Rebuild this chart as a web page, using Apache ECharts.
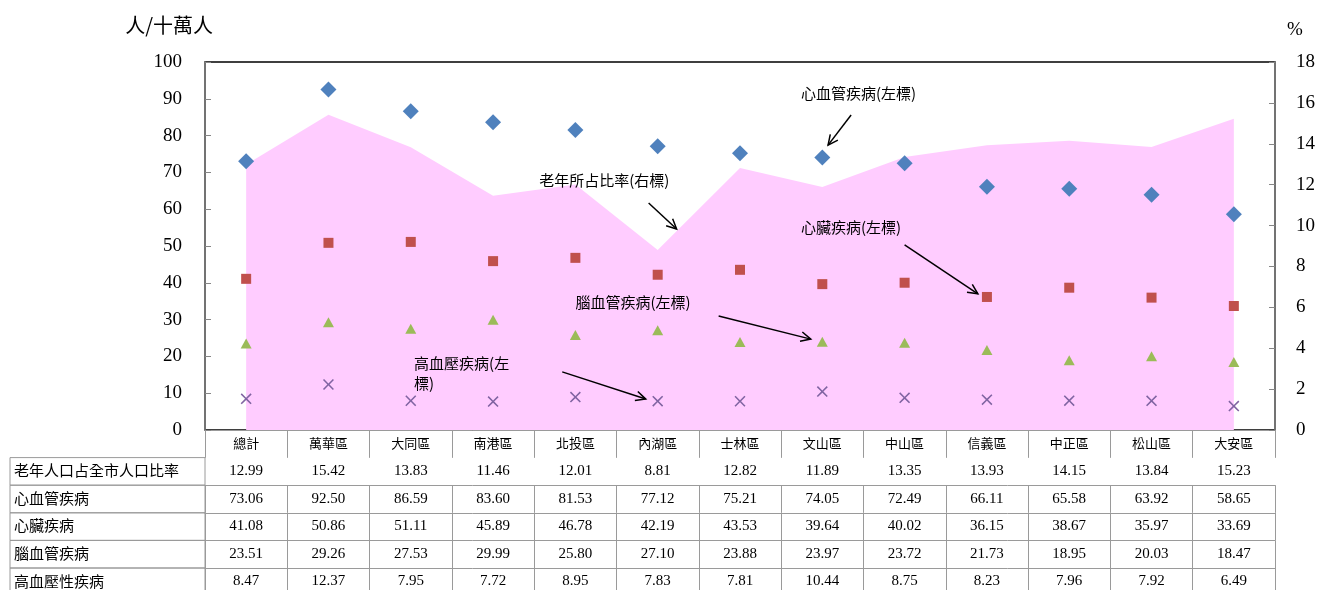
<!DOCTYPE html>
<html><head><meta charset="utf-8">
<script src="https://cdn.jsdelivr.net/npm/echarts@6/dist/echarts.min.js"></script>
<style>html,body{margin:0;padding:0;background:#fff}#c{width:1318px;height:590px}</style>
</head><body><div id="c"></div>
<script>
// ---------- data ----------
const districts = ['總計','萬華區','大同區','南港區','北投區','內湖區','士林區','文山區','中山區','信義區','中正區','松山區','大安區'];
const elderlyRatio = [12.99,15.42,13.83,11.46,12.01,8.81,12.82,11.89,13.35,13.93,14.15,13.84,15.23];
const cardiovascular = [73.06,92.50,86.59,83.60,81.53,77.12,75.21,74.05,72.49,66.11,65.58,63.92,58.65];
const heartDisease = [41.08,50.86,51.11,45.89,46.78,42.19,43.53,39.64,40.02,36.15,38.67,35.97,33.69];
const cerebrovascular = [23.51,29.26,27.53,29.99,25.80,27.10,23.88,23.97,23.72,21.73,18.95,20.03,18.47];
const hypertension = [8.47,12.37,7.95,7.72,8.95,7.83,7.81,10.44,8.75,8.23,7.96,7.92,6.49];
const rowLabels = ['老年人口占全市人口比率','心血管疾病','心臟疾病','腦血管疾病','高血壓性疾病'];
const leftAxisTicks = {min:0, max:100, interval:10};
const rightAxisTicks = {min:0, max:18, interval:2};
const leftAxisTitle = '人/十萬人';
const rightAxisTitle = '%';
// annotations in data coordinates: [category index, left-axis value]
const annotationTexts = ['心血管疾病(左標)','老年所占比率(右標)','心臟疾病(左標)','腦血管疾病(左標)','高血壓疾病(左\n標)'];
const annotationTextAt = [[6.74,91.6],[3.56,67.9],[6.74,55.2],[4.0,34.8],[2.04,15.5]];
const annotationArrowFrom = [[7.35,85.6],[4.89,61.7],[8.0,50.3],[5.74,31.0],[3.84,15.8]];
const annotationArrowTo = [[7.07,77.4],[5.23,54.6],[8.89,37.0],[6.86,24.7],[4.855,8.4]];

// ---------- styling ----------
const SERIF = '"Liberation Serif","Times New Roman",serif';
const CJK = '"Noto Sans CJK TC","Noto Sans CJK SC",sans-serif';
const GRID = {left:205, right:37, top:62, bottom:160};
const ROW_H = 27.6;
const TABLE_LEFT = 10;
const LINE_GRAY = '#9a9a9a';
const AXIS_GRAY = '#868686';

const tableRows = [elderlyRatio, cardiovascular, heartDisease, cerebrovascular, hypertension];

const xAxes = [{
  type:'category', data:districts, gridIndex:0, position:'bottom',
  axisLine:{show:true, lineStyle:{color:AXIS_GRAY, width:1}},
  axisTick:{show:true, interval:0, alignWithLabel:false, inside:false, length:ROW_H, lineStyle:{color:LINE_GRAY}},
  axisLabel:{interval:0, margin:7, fontSize:13, fontFamily:CJK, color:'#000', hideOverlap:false},
  splitLine:{show:false}
}];
tableRows.forEach((row, k) => {
  xAxes.push({
    type:'category', data:districts, gridIndex:0, position:'bottom', offset:ROW_H*(k+1),
    axisLine:{show:true, lineStyle:{color:LINE_GRAY, width:1}},
    axisTick:{show:true, interval:0, alignWithLabel:false, inside:false, length:ROW_H, lineStyle:{color:LINE_GRAY}},
    axisLabel:{interval:0, margin:6, fontSize:15, fontFamily:SERIF, color:'#000', hideOverlap:false,
      formatter:(v, i) => row[i].toFixed(2)},
    splitLine:{show:false}
  });
});

const option = {
  animation:false,
  backgroundColor:'#fff',
  grid:{left:GRID.left, right:GRID.right, top:GRID.top, bottom:GRID.bottom, show:true, borderColor:'#000', borderWidth:1.5, containLabel:false},
  xAxis:xAxes,
  yAxis:[{
    type:'value', position:'left', min:leftAxisTicks.min, max:leftAxisTicks.max, interval:leftAxisTicks.interval,
    name:leftAxisTitle, nameLocation:'end', nameGap:37,
    nameTextStyle:{fontFamily:CJK, fontSize:20, color:'#000', align:'right', verticalAlign:'middle', padding:[0,-8,0,0]},
    axisLine:{show:true, lineStyle:{color:AXIS_GRAY, width:1.5}},
    axisTick:{show:true, inside:true, length:6, lineStyle:{color:AXIS_GRAY}},
    axisLabel:{margin:23, fontSize:19, fontFamily:SERIF, color:'#000'},
    splitLine:{show:false}
  },{
    type:'value', position:'right', min:rightAxisTicks.min, max:rightAxisTicks.max, interval:rightAxisTicks.interval,
    name:rightAxisTitle, nameLocation:'end', nameGap:32,
    nameTextStyle:{fontFamily:SERIF, fontSize:19, color:'#000', align:'left', verticalAlign:'middle', padding:[0,0,0,12]},
    axisLine:{show:true, lineStyle:{color:AXIS_GRAY, width:1.5}},
    axisTick:{show:true, inside:true, length:6, lineStyle:{color:AXIS_GRAY}},
    axisLabel:{margin:21, fontSize:19, fontFamily:SERIF, color:'#000'},
    splitLine:{show:false}
  }],
  series:[{
    name:'老年人口占全市人口比率', type:'line', xAxisIndex:0, yAxisIndex:1, data:elderlyRatio,
    symbol:'none', lineStyle:{width:0, color:'#FFCCFF'}, areaStyle:{color:'#FFCCFF', opacity:1}, z:1, silent:true
  },{
    name:'心血管疾病', type:'scatter', xAxisIndex:0, yAxisIndex:0, data:cardiovascular,
    symbol:'diamond', symbolSize:[16,16], itemStyle:{color:'#4F81BD', opacity:1}, z:5
  },{
    name:'心臟疾病', type:'scatter', xAxisIndex:0, yAxisIndex:0, data:heartDisease,
    symbol:'rect', symbolSize:[10,10], itemStyle:{color:'#C0504D', opacity:1}, z:5
  },{
    name:'腦血管疾病', type:'scatter', xAxisIndex:0, yAxisIndex:0, data:cerebrovascular,
    symbol:'triangle', symbolSize:[11,10], itemStyle:{color:'#9BBB59', opacity:1}, z:5
  },{
    name:'高血壓性疾病', type:'scatter', xAxisIndex:0, yAxisIndex:0, data:hypertension,
    symbol:'path://M0,1 L1,0 L5,4 L9,0 L10,1 L6,5 L10,9 L9,10 L5,6 L1,10 L0,9 L4,5 Z', symbolSize:[11,11],
    itemStyle:{color:'#8064A2', opacity:1}, z:5
  }]
};

const chart = echarts.init(document.getElementById('c'), null, {renderer:'canvas'});
chart.setOption(option);

// ---------- annotations & row-label column ----------
function toPx(pt){
  const x0 = chart.convertToPixel({xAxisIndex:0}, 0);
  const x1 = chart.convertToPixel({xAxisIndex:0}, 1);
  const y = chart.convertToPixel({yAxisIndex:0}, pt[1]);
  return [x0 + (x1 - x0) * pt[0], y];
}
const graphics = [];
annotationTexts.forEach((t, i) => {
  const p = toPx(annotationTextAt[i]);
  graphics.push({type:'text', x:p[0], y:p[1], z:20, style:{text:t, fill:'#000', font:'15px ' + CJK, textVerticalAlign:'middle', lineHeight:20}});
  const a = toPx(annotationArrowFrom[i]);
  const b = toPx(annotationArrowTo[i]);
  graphics.push({type:'line', z:20, shape:{x1:a[0], y1:a[1], x2:b[0], y2:b[1]}, style:{stroke:'#000', lineWidth:1.5}});
  const ang = Math.atan2(b[1]-a[1], b[0]-a[0]);
  const L = 11, s = 0.45;
  graphics.push({type:'polyline', z:20, shape:{points:[
    [b[0]-L*Math.cos(ang-s), b[1]-L*Math.sin(ang-s)], b, [b[0]-L*Math.cos(ang+s), b[1]-L*Math.sin(ang+s)]
  ]}, style:{stroke:'#000', lineWidth:1.5, fill:null}});
});
const baseY = chart.convertToPixel({yAxisIndex:0}, 0);
rowLabels.forEach((lab, k) => {
  const top = baseY + ROW_H*(k+1);
  graphics.push({type:'rect', z:10, shape:{x:TABLE_LEFT, y:top, width:GRID.left - TABLE_LEFT, height:ROW_H},
    style:{stroke:LINE_GRAY, fill:null, lineWidth:1}});
  graphics.push({type:'text', z:11, x:TABLE_LEFT + 4, y:top + ROW_H/2 - 1,
    style:{text:lab, fill:'#000', font:'15px ' + CJK, textVerticalAlign:'middle'}});
});
chart.setOption({graphic:graphics});
</script>
</body></html>
